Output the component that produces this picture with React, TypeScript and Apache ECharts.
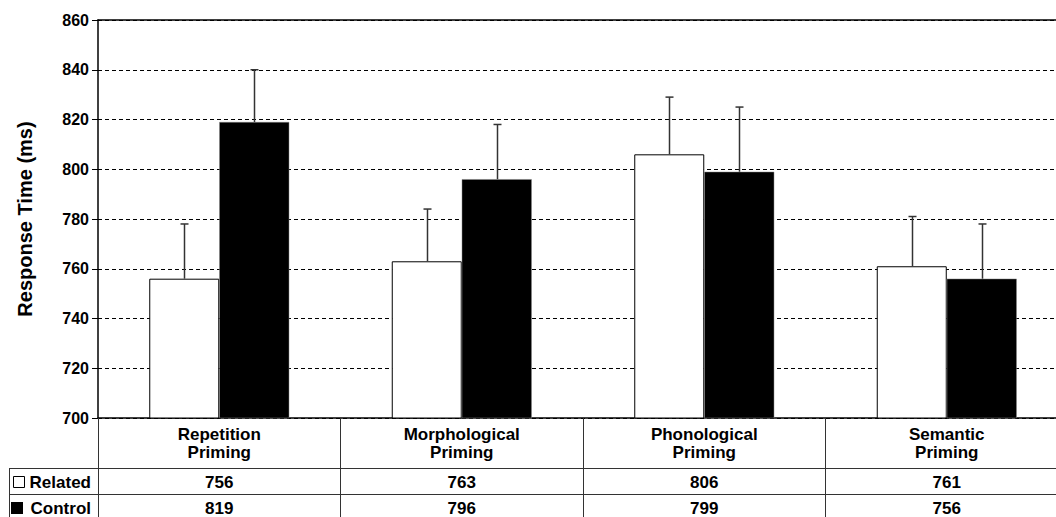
import React, { useEffect, useRef } from "react";
import * as echarts from "echarts";

const categories = ["Repetition\nPriming", "Morphological\nPriming", "Phonological\nPriming", "Semantic\nPriming"];
const relatedValues = [756, 763, 806, 761];
const controlValues = [819, 796, 799, 756];
const relatedErrors = [22, 21, 23, 20];
const controlErrors = [21, 22, 26, 22];
const seriesNames = ["Related", "Control"];
const yMin = 700;
const yMax = 860;
const yInterval = 20;
const yAxisTitle = "Response Time (ms)";

const FONT = "'Liberation Sans', Arial, 'DejaVu Sans', sans-serif";

export default function App() {
  const ref = useRef<HTMLDivElement>(null);
  useEffect(() => {
    if (!ref.current) return;
    const chart = echarts.init(ref.current, null, { renderer: "svg" });
    const barW = 70;
    const errorSeries = (name: string, vals: number[], errs: number[], off: number) => ({
      type: "custom",
      name: name + " error",
      xAxisIndex: 0,
      yAxisIndex: 0,
      z: 5,
      data: vals.map((v, i) => [i, v, errs[i]]),
      encode: { x: 0, y: 1 },
      renderItem: (params: any, api: any) => {
        const idx = api.value(0);
        const v = api.value(1);
        const e = api.value(2);
        const base = api.coord([idx, v]);
        const top = api.coord([idx, v + e]);
        const x = Math.round(base[0] + off) + 0.5;
        const st = { stroke: "#333", lineWidth: 1.5 };
        return {
          type: "group",
          children: [
            { type: "line", shape: { x1: x, y1: base[1], x2: x, y2: top[1] }, style: st },
            { type: "line", shape: { x1: x - 4, y1: top[1], x2: x + 4, y2: top[1] }, style: st },
          ],
        };
      },
    });
    const valueAxis = (vals: number[], offset: number) => ({
      type: "category",
      gridIndex: 0,
      position: "bottom",
      offset,
      data: vals.map((v) => String(v)),
      axisLine: { show: false },
      axisTick: { show: false },
      axisLabel: {
        interval: 0,
        margin: 0,
        color: "#000",
        fontFamily: FONT,
        fontWeight: "bold",
        fontSize: 17,
        lineHeight: 18,
      },
    });
    const option: any = {
      animation: false,
      backgroundColor: "#fff",
      grid: { left: 98, top: 20, right: 0, bottom: 99, containLabel: false },
      xAxis: [
        {
          type: "category",
          data: categories,
          position: "bottom",
          axisLine: { show: true, lineStyle: { color: "#000", width: 1.5 } },
          axisTick: { show: true, length: 99, interval: 0, lineStyle: { color: "#333", width: 1 } },
          axisLabel: {
            interval: 0,
            margin: 7,
            color: "#000",
            fontFamily: FONT,
            fontWeight: "bold",
            fontSize: 17,
            lineHeight: 18,
          },
        },
        valueAxis(relatedValues, 55),
        valueAxis(controlValues, 81),
        {
          type: "category",
          data: categories,
          position: "top",
          axisLine: { show: true, lineStyle: { color: "#000", width: 1.5 } },
          axisTick: { show: false },
          axisLabel: { show: false },
        },
      ],
      yAxis: {
        type: "value",
        min: yMin,
        max: yMax,
        interval: yInterval,
        name: yAxisTitle,
        nameLocation: "middle",
        nameGap: 63,
        nameTextStyle: { color: "#000", fontFamily: FONT, fontWeight: "bold", fontSize: 20 },
        axisLine: { show: true, lineStyle: { color: "#000", width: 1.5 } },
        axisTick: { show: true, length: 6, lineStyle: { color: "#000" } },
        axisLabel: { color: "#000", fontFamily: FONT, fontWeight: "bold", fontSize: 16, margin: 9 },
        splitLine: { show: true, lineStyle: { color: "#000", type: [4, 3], width: 1 } },
      },
      series: [
        {
          type: "bar",
          name: seriesNames[0],
          data: relatedValues,
          barWidth: barW,
          barGap: "0%",
          itemStyle: { color: "#fff", borderColor: "#000", borderWidth: 1 },
          z: 2,
        },
        {
          type: "bar",
          name: seriesNames[1],
          data: controlValues,
          barWidth: barW,
          barGap: "0%",
          itemStyle: { color: "#000", borderColor: "#888", borderWidth: 0.5 },
          z: 2,
        },
        errorSeries(seriesNames[0], relatedValues, relatedErrors, -barW / 2),
        errorSeries(seriesNames[1], controlValues, controlErrors, barW / 2),
      ],
      graphic: [
        { type: "line", shape: { x1: 9, y1: 468.5, x2: 1068, y2: 468.5 }, style: { stroke: "#333", lineWidth: 1 } },
        { type: "line", shape: { x1: 9, y1: 494.5, x2: 1068, y2: 494.5 }, style: { stroke: "#333", lineWidth: 1 } },
        { type: "line", shape: { x1: 9.5, y1: 468, x2: 9.5, y2: 517 }, style: { stroke: "#333", lineWidth: 1 } },
        { type: "rect", shape: { x: 13.5, y: 476.5, width: 11, height: 11 }, style: { fill: "#fff", stroke: "#000", lineWidth: 1 } },
        { type: "rect", shape: { x: 11, y: 502, width: 12, height: 12 }, style: { fill: "#000" } },
        ...seriesNames.map((n, i) => ({
          type: "text",
          x: 91,
          y: i === 0 ? 482 : 508,
          style: {
            text: n,
            align: "right",
            verticalAlign: "middle",
            fill: "#000",
            font: `bold 17px ${FONT}`,
          },
        })),
      ],
    };
    chart.setOption(option);
    return () => chart.dispose();
  }, []);
  return (
    <div style={{ position: "fixed", left: 0, top: 0, width: 1056, height: 517, overflow: "hidden", background: "#fff" }}>
      <div ref={ref} style={{ width: 1068, height: 517 }} />
    </div>
  );
}
